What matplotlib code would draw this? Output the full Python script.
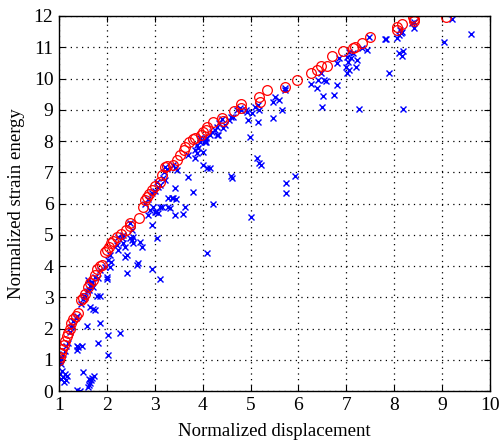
import matplotlib
matplotlib.use("Agg")
import matplotlib.pyplot as plt

# Red circles (upper envelope)
red_x = [1.00, 1.02, 1.04, 1.06, 1.10, 1.13, 1.17, 1.19, 1.22, 1.25, 1.30, 1.35, 1.40, 1.46, 1.50,
         1.55, 1.60, 1.65, 1.71, 1.75, 1.79, 1.85, 1.90, 1.96, 2.00, 2.04, 2.08, 2.12, 2.21, 2.30,
         2.40, 2.48, 2.48, 2.67, 2.75, 2.79, 2.83, 2.88, 2.94, 3.00, 3.10, 3.15, 3.21, 3.25, 3.38,
         3.46, 3.53, 3.60, 3.63, 3.71, 3.79, 3.83, 3.96, 4.00, 4.06, 4.10, 4.21, 4.40, 4.42, 4.65,
         4.81, 4.81, 5.17, 5.19, 5.35, 5.71, 5.96, 6.27, 6.38, 6.48, 6.60, 6.71, 6.92, 7.13, 7.19,
         7.33, 7.50, 8.06, 8.06, 8.17, 8.40, 8.42, 8.42, 9.08]
red_y = [0.99, 1.10, 1.22, 1.35, 1.47, 1.60, 1.75, 1.85, 2.00, 2.18, 2.30, 2.40, 2.50, 2.90, 2.98,
         3.10, 3.33, 3.45, 3.55, 3.70, 3.90, 4.00, 4.05, 4.45, 4.52, 4.60, 4.74, 4.80, 4.93, 5.02,
         5.15, 5.38, 5.28, 5.54, 5.89, 6.11, 6.20, 6.30, 6.45, 6.55, 6.69, 6.90, 7.17, 7.20, 7.23,
         7.40, 7.55, 7.70, 7.82, 7.97, 8.07, 8.10, 8.20, 8.30, 8.35, 8.45, 8.60, 8.75, 8.63, 8.97,
         9.06, 9.18, 9.41, 9.25, 9.63, 9.73, 9.95, 10.18, 10.27, 10.40, 10.40, 10.72, 10.88, 10.98, 11.00,
         11.14, 11.33, 11.55, 11.65, 11.74, 11.97, 11.84, 11.90, 11.97]

# Blue crosses
blue_x = [1.02, 1.04, 1.06, 1.08, 1.10, 1.12, 1.15, 1.17, 1.05, 1.03,
          1.37, 1.44, 1.50, 1.60, 1.62, 1.65, 1.67, 1.69, 1.73, 1.62,
          1.38, 1.48, 1.37, 1.40, 1.58, 1.65, 1.75, 1.70, 1.85, 1.81, 2.02, 2.02, 2.27,
          1.79, 1.85, 1.71,
          1.05, 1.08, 1.12, 1.15, 1.18, 1.22, 1.25, 1.28, 1.30, 1.35, 1.38, 1.45, 1.50, 1.52,
          1.55, 1.58, 1.62, 1.65, 1.68,
          1.60, 1.69, 1.75, 1.81, 1.85, 1.96, 2.02, 2.00, 2.00, 2.06, 2.06, 2.08, 2.21, 2.23,
          2.31, 2.33, 2.42, 2.37, 2.48, 2.52, 2.48, 2.54, 2.54, 2.69, 2.73, 2.90, 2.96, 2.94,
          3.00, 3.06, 3.15, 2.62, 2.42, 2.65, 2.94, 3.10, 3.04, 2.33, 2.37,
          3.02, 3.10, 3.27, 3.42, 3.58, 4.10, 4.21, 5.00,
          2.23, 2.52, 2.85, 3.31, 3.27, 3.35, 3.63, 3.69, 3.79, 3.42, 3.06, 3.04, 3.17, 3.21,
          3.46, 3.69, 3.83, 3.88, 3.94, 4.04, 4.00, 4.10, 3.38, 3.44,
          2.80, 2.85, 2.95, 3.00, 3.10, 3.20, 3.25,
          3.21, 3.38, 3.42, 3.83, 3.88, 3.90, 4.00, 4.04, 4.15, 4.08, 4.15, 4.19, 4.29, 4.29,
          4.35, 4.40, 4.46, 4.56, 4.60, 4.71, 4.77, 4.90, 4.94, 4.98,
          5.13, 5.17, 5.21, 4.60, 4.62, 5.73, 5.75, 5.92, 4.31, 4.42, 4.08,
          3.94, 4.25, 4.63, 4.81, 4.92, 5.04, 5.15, 5.10, 5.17, 5.15, 5.46, 5.46, 5.50, 5.60,
          5.65, 5.71, 5.71,
          7.48, 7.83, 7.33, 7.44, 7.06, 7.13, 7.02, 7.10, 7.04, 7.23, 6.85, 6.81, 7.00, 7.06,
          7.02, 7.21, 6.48, 6.40, 6.54, 6.58, 6.27, 6.38, 6.81, 6.75, 6.52, 6.50, 7.27, 7.90,
          7.81, 8.06, 8.10, 8.15, 8.17, 8.13, 8.42, 8.38, 8.42, 9.21, 9.60, 9.04, 8.10, 8.19,
          8.17, 8.19]
blue_y = [0.55, 0.40, 0.65, 0.45, 0.30, 0.55, 0.35, 0.50, 0.86, 0.95,
          0.03, 0.00, 0.61, 0.13, 0.20, 0.26, 0.35, 0.42, 0.48, 0.40,
          1.45, 1.46, 1.31, 1.41, 2.09, 2.69, 2.59, 2.62, 2.17, 1.53, 1.79, 1.15, 1.86,
          3.04, 3.04, 3.33,
          1.05, 1.20, 1.30, 1.45, 1.55, 1.90, 2.05, 2.10, 2.25, 2.35, 2.40, 2.80, 2.95, 3.05,
          3.00, 3.20, 3.25, 3.35, 3.50,
          3.55, 3.46, 3.65, 3.62, 3.87, 3.97, 4.19, 3.65, 3.58, 4.35, 3.97, 4.13, 4.67, 4.51,
          4.90, 4.74, 4.35, 4.29, 4.90, 4.83, 5.38, 4.73, 4.93, 4.77, 4.61, 5.79, 5.89, 5.31,
          5.73, 5.70, 5.89, 4.03, 3.78, 4.10, 3.90, 3.58, 4.90, 5.00, 4.61,
          5.73, 5.89, 5.89, 5.63, 5.66, 4.42, 5.98, 5.57,
          4.93, 5.15, 5.63, 5.86, 6.18, 6.18, 5.89, 6.85, 6.37, 6.50, 6.53, 6.69, 6.82, 6.75,
          7.07, 7.55, 7.71, 7.87, 7.97, 8.03, 7.23, 7.14, 6.18, 6.14,
          6.00, 6.15, 6.35, 6.40, 6.60, 7.00, 7.10,
          7.17, 7.23, 7.14, 7.46, 7.62, 7.78, 7.65, 7.97, 7.14, 8.10, 8.19, 8.29, 8.19, 8.45,
          8.58, 8.70, 8.51, 8.67, 8.77, 8.99, 9.06, 8.99, 8.67, 8.13,
          7.46, 7.30, 7.23, 6.88, 6.82, 6.66, 6.34, 6.88, 8.19, 8.42, 7.97,
          8.10, 8.35, 8.77, 8.99, 8.93, 8.90, 8.61, 9.09, 8.99, 9.15, 8.74, 9.25, 9.41, 9.31,
          8.99, 9.63, 9.70,
          11.33, 11.26, 10.98, 10.91, 10.85, 10.82, 10.69, 10.66, 10.53, 10.59, 10.66, 10.50, 10.37, 10.27,
          10.18, 10.37, 10.18, 9.95, 9.95, 9.92, 9.82, 9.70, 9.79, 9.47, 9.44, 9.09, 9.02, 10.18,
          11.26, 11.30, 11.39, 11.46, 11.49, 11.55, 11.62, 11.78, 11.81, 11.90, 11.42, 11.17, 10.82, 10.88,
          10.72, 9.02]

x_ticks = [1, 2, 3, 4, 5, 6, 7, 8, 9, 10]
y_ticks = [0, 1, 2, 3, 4, 5, 6, 7, 8, 9, 10, 11, 12]
x_label = "Normalized displacement"
y_label = "Normalized strain energy"

plt.rcParams['font.family'] = ['Liberation Serif', 'DejaVu Serif']

fig = plt.figure(figsize=(5.0, 4.44), dpi=100)
ax = fig.add_axes([0.118, 0.119, 0.862, 0.845])

ax.plot(blue_x, blue_y, linestyle='none', marker='x', color='#0000ff',
        markersize=4.5, markeredgewidth=1.0)
ax.plot(red_x, red_y, linestyle='none', marker='o', markerfacecolor='none',
        markeredgecolor='#ff0000', markersize=7, markeredgewidth=0.9)

ax.set_xlim(1, 10)
ax.set_ylim(0, 12)
ax.set_xticks(x_ticks)
ax.set_yticks(y_ticks)
ax.set_xticklabels([str(t) for t in x_ticks])
ax.set_yticklabels([str(t) for t in y_ticks])
ax.tick_params(direction='in', top=True, right=True, length=4, width=0.8,
               labelsize=14, pad=4)
ax.grid(True, linestyle=(0, (1, 3.5)), color='black', linewidth=0.9)
for s in ax.spines.values():
    s.set_linewidth(1.0)
ax.set_xlabel(x_label, fontsize=13.5, labelpad=7)
ax.set_ylabel(y_label, fontsize=13.5, labelpad=6)

fig.savefig("out.png", dpi=100)
